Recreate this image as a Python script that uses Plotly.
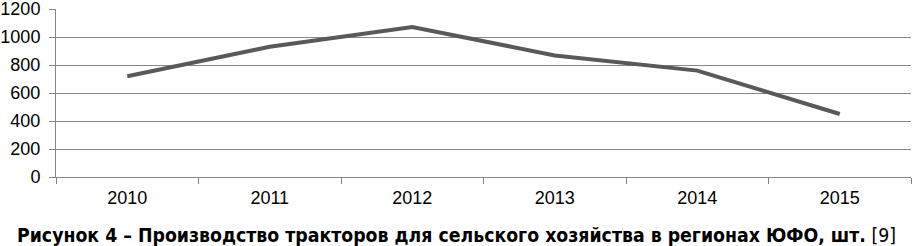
import plotly.graph_objects as go

years = ["2010", "2011", "2012", "2013", "2014", "2015"]
tractors = [720, 930, 1072, 868, 760, 450]
y_ticks = [0, 200, 400, 600, 800, 1000, 1200]

fig = go.Figure()
fig.add_trace(go.Scatter(
    x=years, y=tractors, mode="lines",
    line=dict(color="#595959", width=4),
    hoverinfo="x+y",
))

tick_fam = "Liberation Sans, Arial, sans-serif"
cap_fam = "DejaVu Sans Condensed, Liberation Sans Narrow, Arial Narrow, sans-serif"

fig.update_layout(
    width=913, height=246,
    margin=dict(l=56, r=2, t=9, b=69),
    paper_bgcolor="white", plot_bgcolor="white",
    showlegend=False,
    font=dict(family=tick_fam, color="#000000", size=18),
    xaxis=dict(
        type="category", range=[-0.5, 5.5], automargin=False,
        showgrid=False, showline=True, linecolor="#868686", linewidth=1,
        ticks="outside", tickson="boundaries", ticklen=6, tickcolor="#868686",
        tickfont=dict(size=18, family=tick_fam),
        ticklabelstandoff=4,
    ),
    yaxis=dict(
        range=[0, 1200], tickvals=y_ticks, automargin=False,
        showgrid=True, gridcolor="#868686", gridwidth=1,
        showline=True, linecolor="#868686", linewidth=1,
        ticks="outside", ticklen=6, tickcolor="#868686",
        tickfont=dict(size=18, family=tick_fam),
        ticklabelstandoff=5,
        ticklabeloverflow="allow",
        zeroline=False,
    ),
    annotations=[dict(
        text="<b>Рисунок 4 – Производство тракторов для сельского хозяйства в регионах ЮФО, шт.</b> [9]",
        xref="paper", yref="paper", x=0.5, y=0, yshift=-58,
        xanchor="center", yanchor="middle",
        showarrow=False,
        font=dict(size=19.3, family=cap_fam, color="#000000"),
        xshift=-27,
    )],
)

fig.write_html("out.html", config={"displayModeBar": False},
               post_script="document.body.style.margin='0';")
